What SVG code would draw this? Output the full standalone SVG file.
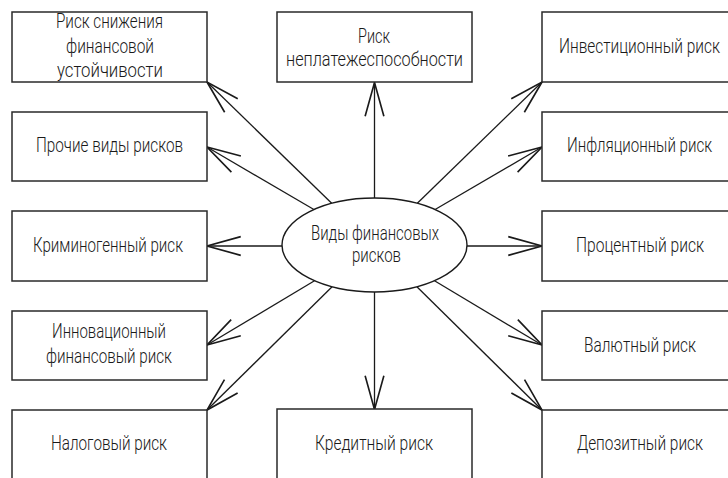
<svg xmlns="http://www.w3.org/2000/svg" width="728" height="478" viewBox="0 0 728 478">
<style>
  .box { fill: #fff; stroke: #2a2a2a; stroke-width: 1.5; }
  .lbl { font-family: Roboto, "DejaVu Sans Condensed", "Liberation Sans", sans-serif; font-weight: 300; font-size: 20px; fill: #1a1a1a; }
  .con { stroke: #1a1a1a; stroke-width: 1.3; fill: none; marker-end: url(#arr); }
</style>
<defs>
  <marker id="arr" markerUnits="userSpaceOnUse" markerWidth="40" markerHeight="40" refX="0" refY="0" viewBox="-30 -10 32 20" orient="auto" overflow="visible">
    <path d="M-27,-7.5 L0,0 L-27,7.5" fill="none" stroke="#1a1a1a" stroke-width="1.3"/>
  </marker>
</defs>
<rect width="728" height="478" fill="#fff"/>

<g id="connectors">
  <line class="con" x1="374.5" y1="198" x2="374.5" y2="82.5"/>
  <line class="con" x1="374.5" y1="292" x2="374.5" y2="409.5"/>
  <line class="con" x1="331.7" y1="203.3" x2="207" y2="82"/>
  <line class="con" x1="313.9" y1="209.5" x2="207" y2="147"/>
  <line class="con" x1="282" y1="246" x2="207" y2="246"/>
  <line class="con" x1="314.5" y1="280.8" x2="207" y2="345"/>
  <line class="con" x1="332.1" y1="286.8" x2="207" y2="410"/>
  <line class="con" x1="417.3" y1="203.3" x2="542" y2="82"/>
  <line class="con" x1="435.1" y1="209.5" x2="542" y2="147"/>
  <line class="con" x1="467" y1="246" x2="542" y2="246"/>
  <line class="con" x1="434.5" y1="280.8" x2="542" y2="345"/>
  <line class="con" x1="416.9" y1="286.8" x2="542" y2="410"/>
</g>

<g id="center">
  <ellipse cx="374.5" cy="245" rx="92.5" ry="47" fill="#fff" stroke="#1a1a1a" stroke-width="1.4"/>
  <text class="lbl" x="311" y="240" textLength="128" lengthAdjust="spacingAndGlyphs">Виды финансовых</text>
  <text class="lbl" x="352" y="262" textLength="49" lengthAdjust="spacingAndGlyphs">рисков</text>
</g>

<g id="n-stability">
  <rect class="box" x="12" y="12" width="195" height="70"/>
  <text class="lbl" x="56" y="28" textLength="107" lengthAdjust="spacingAndGlyphs">Риск снижения</text>
  <text class="lbl" x="66" y="52.5" textLength="88" lengthAdjust="spacingAndGlyphs">финансовой</text>
  <text class="lbl" x="57" y="77" textLength="106" lengthAdjust="spacingAndGlyphs">устойчивости</text>
</g>
<g id="n-other">
  <rect class="box" x="12" y="112" width="195" height="69"/>
  <text class="lbl" x="36" y="152" textLength="147" lengthAdjust="spacingAndGlyphs">Прочие виды рисков</text>
</g>
<g id="n-criminal">
  <rect class="box" x="12" y="211" width="195" height="70"/>
  <text class="lbl" x="33" y="252" textLength="150" lengthAdjust="spacingAndGlyphs">Криминогенный риск</text>
</g>
<g id="n-innovation">
  <rect class="box" x="12" y="311" width="195" height="69"/>
  <text class="lbl" x="52" y="338" textLength="114" lengthAdjust="spacingAndGlyphs">Инновационный</text>
  <text class="lbl" x="46" y="363" textLength="126" lengthAdjust="spacingAndGlyphs">финансовый риск</text>
</g>
<g id="n-tax">
  <rect class="box" x="12" y="410" width="195" height="80"/>
  <text class="lbl" x="51" y="450" textLength="116" lengthAdjust="spacingAndGlyphs">Налоговый риск</text>
</g>

<g id="n-insolvency">
  <rect class="box" x="277" y="12" width="195" height="70"/>
  <text class="lbl" x="358" y="43" textLength="32" lengthAdjust="spacingAndGlyphs">Риск</text>
  <text class="lbl" x="286" y="66" textLength="177" lengthAdjust="spacingAndGlyphs">неплатежеспособности</text>
</g>
<g id="n-credit">
  <rect class="box" x="277" y="409" width="195" height="80"/>
  <text class="lbl" x="315" y="450" textLength="118" lengthAdjust="spacingAndGlyphs">Кредитный риск</text>
</g>

<g id="n-investment">
  <rect class="box" x="542" y="12" width="200" height="70"/>
  <text class="lbl" x="559" y="53" textLength="161" lengthAdjust="spacingAndGlyphs">Инвестиционный риск</text>
</g>
<g id="n-inflation">
  <rect class="box" x="542" y="112" width="200" height="69"/>
  <text class="lbl" x="567" y="152" textLength="145" lengthAdjust="spacingAndGlyphs">Инфляционный риск</text>
</g>
<g id="n-interest">
  <rect class="box" x="542" y="211" width="200" height="70"/>
  <text class="lbl" x="576" y="252" textLength="128" lengthAdjust="spacingAndGlyphs">Процентный риск</text>
</g>
<g id="n-currency">
  <rect class="box" x="542" y="311" width="200" height="69"/>
  <text class="lbl" x="584" y="352" textLength="112" lengthAdjust="spacingAndGlyphs">Валютный риск</text>
</g>
<g id="n-deposit">
  <rect class="box" x="542" y="410" width="200" height="80"/>
  <text class="lbl" x="577" y="450" textLength="126" lengthAdjust="spacingAndGlyphs">Депозитный риск</text>
</g>
</svg>
